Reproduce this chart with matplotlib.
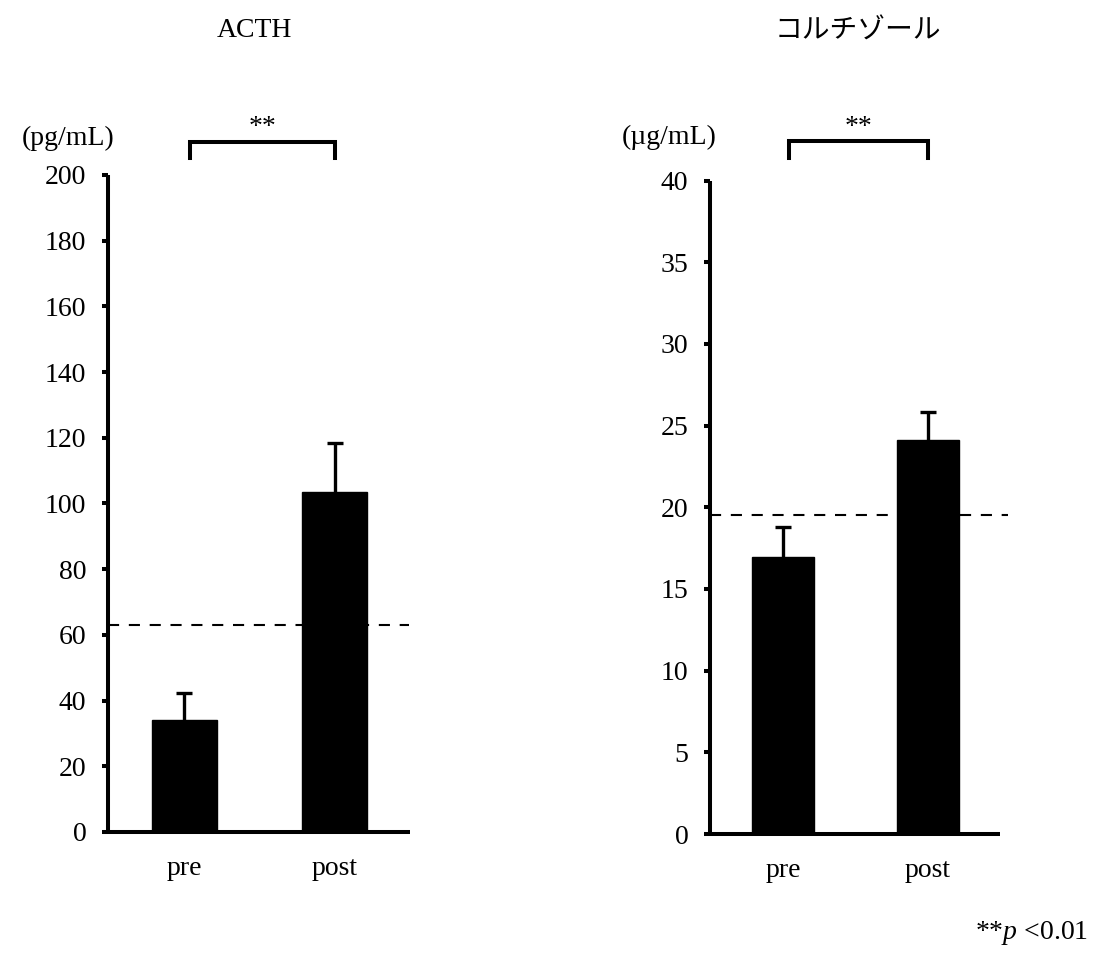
import matplotlib
matplotlib.use("Agg")
import matplotlib.pyplot as plt

plt.rcParams["font.family"] = ["Liberation Serif", "DejaVu Serif"]
plt.rcParams["mathtext.fontset"] = "custom"
plt.rcParams["mathtext.rm"] = "Liberation Serif"
plt.rcParams["mathtext.it"] = "Liberation Serif:italic"
plt.rcParams["lines.scale_dashes"] = False

# Data
groups = ["pre", "post"]
acth_mean = [34.2, 103.5]
acth_sd = [8.0, 15.0]
acth_ref = 63.0
cortisol_mean = [16.95, 24.1]
cortisol_sd = [1.85, 1.75]
cortisol_ref = 19.5

acth_ticks = [0, 20, 40, 60, 80, 100, 120, 140, 160, 180, 200]
cortisol_ticks = [0, 5, 10, 15, 20, 25, 30, 35, 40]

fig = plt.figure(figsize=(10.94, 9.55), dpi=100)

ax1 = fig.add_axes([0.0987, 0.1288, 0.2761, 0.6880])
ax2 = fig.add_axes([0.6490, 0.1267, 0.2651, 0.6842])


def panel(ax, means, sds, ref, ticks, ymax, bracket_y, leg_drop, bar_w,
          ref_xmax):
    x = list(range(len(groups)))
    ax.bar(x, means, width=bar_w, color="black", edgecolor="black", zorder=2)
    # upper error bars only
    eb = ax.errorbar(x, means, yerr=[[0] * len(sds), sds], fmt="none",
                     ecolor="black", elinewidth=2.4, capsize=5.5,
                     capthick=2.4, zorder=1)
    eb.lines[1][0].set_visible(False)
    ax.axhline(ref, xmin=0, xmax=ref_xmax, color="black", lw=1.5,
               dashes=(8, 7), zorder=3, clip_on=False)
    ax.set_xlim(-0.505, 1.5)
    ax.set_ylim(0, ymax)
    ax.set_yticks(ticks)
    ax.set_xticks(x)
    ax.set_xticklabels(groups)
    for s in ("top", "right"):
        ax.spines[s].set_visible(False)
    for s in ("left", "bottom"):
        ax.spines[s].set_linewidth(2.9)
        ax.spines[s].set_capstyle("butt")
    ax.tick_params(axis="y", direction="out", length=4.5, width=2.9,
                   pad=11, labelsize=20)
    ax.tick_params(axis="x", length=0, pad=17, labelsize=20)
    # significance bracket
    ax.plot([0.04, 0.04, 1.0, 1.0],
            [bracket_y - leg_drop, bracket_y, bracket_y, bracket_y - leg_drop],
            color="black", lw=2.9, clip_on=False, solid_joinstyle="miter")
    ax.text(0.52, bracket_y + leg_drop * 0.1, "**", ha="center", va="bottom",
            fontsize=20, transform=ax.transData, clip_on=False)


panel(ax1, acth_mean, acth_sd, acth_ref, acth_ticks, 200, 210.1, 4.9, 0.432,
      0.995)
panel(ax2, cortisol_mean, cortisol_sd, cortisol_ref, cortisol_ticks, 40,
      42.4, 1.0, 0.428, 1.028)

fig.text(0.062, 0.8555, "(pg/mL)", ha="center", va="center", fontsize=20)
fig.text(0.612, 0.8565, "(µg/mL)", ha="center", va="center", fontsize=20)

fig.text(0.233, 0.968, "ACTH", ha="center", va="center", fontsize=20)
fig.text(0.784, 0.968, "コルチゾール", ha="center", va="center", fontsize=20,
         family=["Noto Sans CJK JP", "DejaVu Sans"])

fig.text(0.9945, 0.023, r"**$p$ <0.01", ha="right", va="center", fontsize=20)

fig.savefig("out.png", dpi=100, facecolor="white")
